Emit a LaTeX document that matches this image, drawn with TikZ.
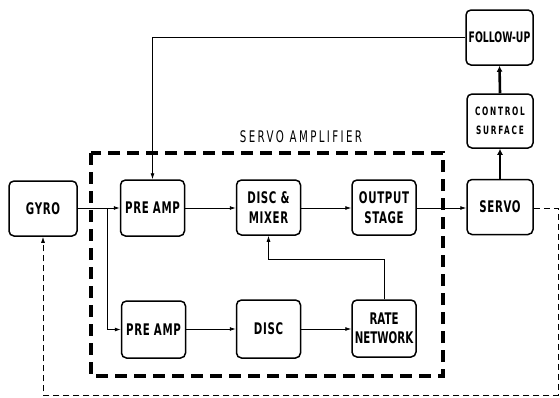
\documentclass[tikz,border=0pt]{standalone}
\usepackage{fontspec}
\setmainfont{DejaVu Sans}[FakeStretch=0.64]
\usetikzlibrary{arrows.meta}
\begin{document}
\begin{tikzpicture}[x=1pt,y=-1pt,
  blk/.style={draw, line width=1.5pt, rounded corners=5pt, minimum width=64pt,
    minimum height=55pt, align=center, inner sep=1pt,
    font=\bfseries\fontsize{16}{19.5}\selectfont\addfontfeatures{LetterSpace=4}},
  sig/.style={line width=0.8pt, -{Latex[length=6pt,width=4pt]}},
  thk/.style={line width=2.6pt, -{Latex[length=6pt,width=6pt]}},
  ampbox/.style={line width=3.2pt, dash pattern=on 12pt off 7pt},
  fb/.style={line width=0.9pt, dash pattern=on 6pt off 4pt}]
\useasboundingbox (0,0) rectangle (560,397);
% blocks
\node[blk, minimum width=68pt] (gyro) at (43,208.5) {GYRO};
\node[blk, minimum height=56pt] (pa1) at (152.5,208) {PRE AMP};
\node[blk] (dm) at (268.5,207.5) {DISC \&\\MIXER};
\node[blk] (os) at (384,207.5) {OUTPUT\\STAGE};
\node[blk, minimum width=66pt] (servo) at (500,207) {SERVO};
\node[blk, minimum height=57pt] (pa2) at (153.5,329.5) {PRE AMP};
\node[blk, minimum height=58pt] (disc) at (268.5,329) {DISC};
\node[blk, minimum height=57pt, font=\bfseries\fontsize{16}{19.5}\selectfont] (rate) at (384,328.5) {RATE\\NETWORK};
\node[blk, minimum width=66pt, minimum height=54pt,
  font=\bfseries\fontsize{11.5}{19}\selectfont\addfontfeatures{LetterSpace=15}] (cs) at (500,121) {CONTROL\\SURFACE};
\node[blk, minimum width=67pt, font=\bfseries\fontsize{14.5}{19}\selectfont] (fu) at (499.5,37.5) {FOLLOW-UP};
% servo amplifier box
\coordinate (sa1) at (91,153);
\coordinate (sa2) at (443,376);
\draw[ampbox] (sa1) rectangle (sa2);
\node[font=\fontsize{16}{16}\selectfont\addfontfeatures{LetterSpace=15}] (salbl) at (301,137) {SERVO AMPLIFIER};
% signal lines
\coordinate (br) at (107,0);
\coordinate (rj) at (0,259);
\coordinate (fbr) at (558,395);
\draw[sig] (gyro.east |- pa1.west) -- (pa1.west);
\draw[sig] (br |- pa1.west) |- (pa2.west);
\draw[sig] (pa1.east) -- (dm.west |- pa1.east);
\draw[sig] (dm.east |- pa1.east) -- (os.west |- pa1.east);
\draw[sig] (os.east |- pa1.east) -- (servo.west |- pa1.east);
\draw[sig] (pa2.east |- disc.west) -- (disc.west);
\draw[sig] (disc.east) -- (rate.west |- disc.east);
\draw[sig] (rate.north) |- (dm.south |- rj) -- (dm.south);
\draw[thk] (servo.north) -- (cs.south);
\draw[thk] (cs.north) -- (fu.south);
\draw[sig] (fu.west) -| (pa1.north);
\draw[fb, -{Latex[length=6pt,width=4pt]}] (servo.east |- pa1.east) -| (fbr) -- (fbr -| gyro.south) -- (gyro.south);
\end{tikzpicture}
\end{document}
